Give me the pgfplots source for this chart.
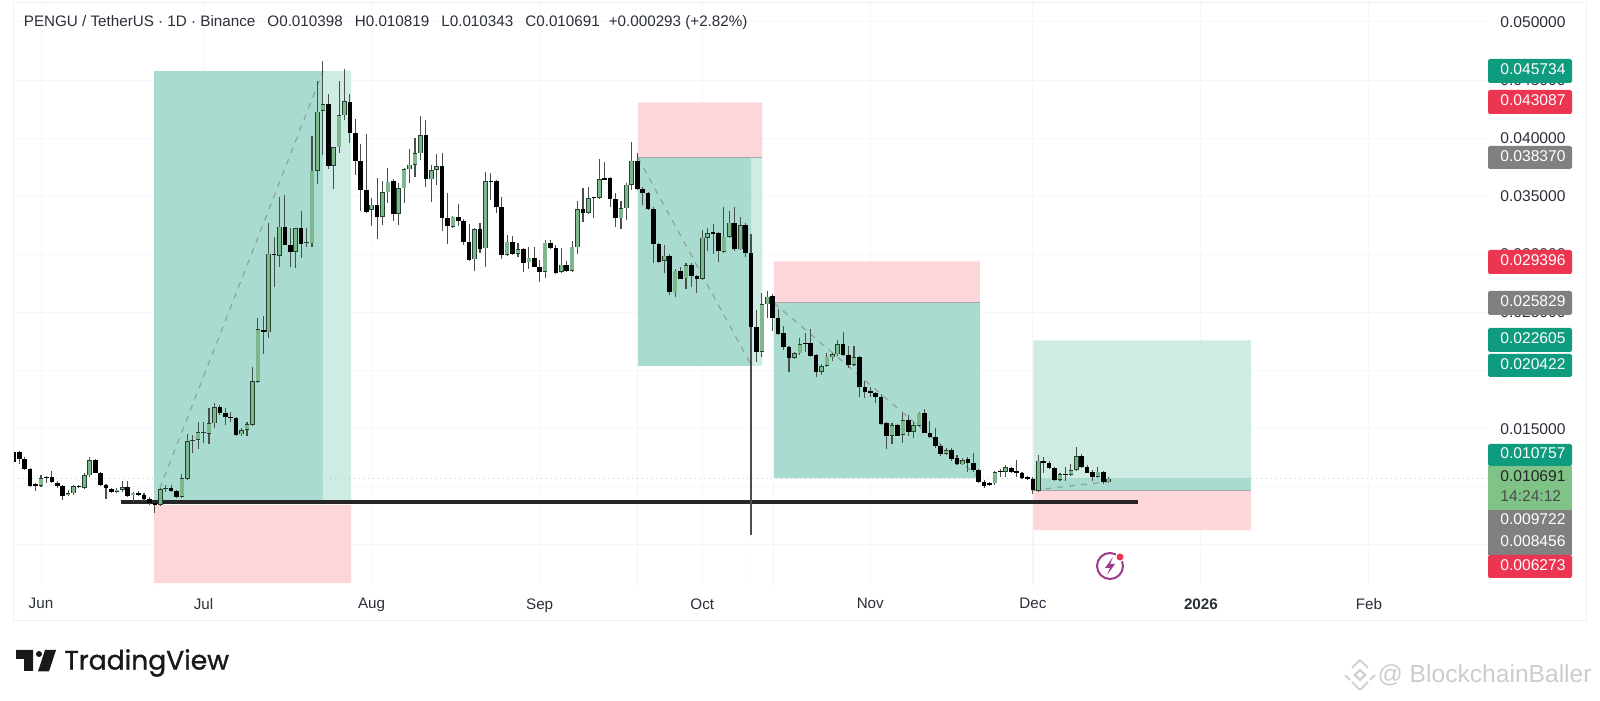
\documentclass[border=0pt]{standalone}
\usepackage{pgfplots}
\pgfplotsset{compat=1.18}
\usepackage{pgfplotstable}
\usepackage{fontspec}
\setmainfont{Liberation Sans}
\newfontfamily\tvfont[FakeBold=1.2]{Poppins}
\definecolor{tGrid}{HTML}{F6F7F8}
\definecolor{tDark}{HTML}{A9DBD1}
\definecolor{tLight}{HTML}{CEEBE4}
\definecolor{tPink}{HTML}{FDD6DA}
\definecolor{cUp}{HTML}{7DB88C}
\definecolor{cEdge}{HTML}{24402F}
\definecolor{cWick}{HTML}{4A4F4C}
\definecolor{cDash}{HTML}{8FA3A0}
\definecolor{tagG}{HTML}{0E9B7E}
\definecolor{tagR}{HTML}{EC3550}
\definecolor{tagA}{HTML}{808080}
\definecolor{tagL}{HTML}{7FC386}
\definecolor{ink}{HTML}{2A2E39}
\pgfplotstableread{
d o h l c
0 0.01010 0.01102 0.01001 0.01073
5 0.00927 0.00973 0.00921 0.00944
6 0.00944 0.01016 0.00930 0.01007
8 0.00990 0.01116 0.00984 0.01099
9 0.01099 0.01260 0.01087 0.01231
14 0.00958 0.00987 0.00953 0.00976
15 0.00973 0.01053 0.00958 0.00996
17 0.00927 0.00958 0.00872 0.00950
22 0.00847 0.00987 0.00838 0.00981
23 0.00981 0.01016 0.00958 0.00990
26 0.00913 0.01110 0.00907 0.01073
27 0.01067 0.01452 0.01059 0.01394
28 0.01394 0.01446 0.01288 0.01403
29 0.01403 0.01555 0.01323 0.01469
30 0.01460 0.01555 0.01380 0.01472
31 0.01455 0.01675 0.01366 0.01546
32 0.01546 0.01718 0.01503 0.01684
37 0.01452 0.01503 0.01440 0.01489
38 0.01489 0.01561 0.01440 0.01541
39 0.01535 0.02029 0.01526 0.01911
40 0.01905 0.02450 0.01897 0.02356
42 0.02330 0.03268 0.02278 0.03007
44 0.02989 0.03491 0.02895 0.03239
47 0.03021 0.03230 0.02880 0.03225
49 0.03096 0.03225 0.03061 0.03107
50 0.03096 0.04019 0.03061 0.03721
51 0.03721 0.04495 0.03606 0.04228
52 0.04234 0.04667 0.03856 0.04294
54 0.03764 0.03927 0.03563 0.03921
55 0.03921 0.04495 0.03870 0.04197
56 0.04197 0.04593 0.04157 0.04320
61 0.03382 0.03483 0.03245 0.03428
63 0.03325 0.03635 0.03253 0.03535
64 0.03535 0.03741 0.03440 0.03626
66 0.03348 0.03618 0.03253 0.03569
67 0.03569 0.03747 0.03446 0.03732
68 0.03732 0.03905 0.03618 0.03773
69 0.03773 0.04000 0.03669 0.03870
70 0.03870 0.04191 0.03813 0.04028
72 0.03646 0.03770 0.03454 0.03727
73 0.03727 0.03861 0.03598 0.03761
76 0.03239 0.03331 0.03225 0.03325
80 0.02958 0.03225 0.02861 0.03216
82 0.03053 0.03707 0.02889 0.03632
86 0.02995 0.03167 0.02990 0.03110
88 0.03004 0.03101 0.02981 0.03044
90 0.02932 0.03067 0.02872 0.02972
93 0.02852 0.03124 0.02800 0.03101
96 0.02852 0.03053 0.02846 0.02912
98 0.02858 0.03119 0.02852 0.03067
99 0.03061 0.03463 0.03004 0.03388
101 0.03360 0.03578 0.03348 0.03483
103 0.03486 0.03818 0.03480 0.03646
107 0.03311 0.03463 0.03219 0.03397
108 0.03397 0.03618 0.03296 0.03600
109 0.03598 0.03970 0.03555 0.03807
115 0.02944 0.03081 0.02843 0.02990
117 0.02674 0.02872 0.02631 0.02861
119 0.02795 0.02929 0.02700 0.02909
122 0.02789 0.03210 0.02780 0.03144
123 0.03144 0.03225 0.03030 0.03182
126 0.03021 0.03405 0.03015 0.03153
127 0.03153 0.03377 0.03139 0.03274
129 0.03044 0.03325 0.03038 0.03253
133 0.02163 0.02665 0.02115 0.02571
134 0.02571 0.02688 0.02450 0.02637
139 0.02112 0.02163 0.02097 0.02149
140 0.02149 0.02278 0.02135 0.02229
144 0.01988 0.02057 0.01963 0.02040
145 0.02040 0.02149 0.02029 0.02120
146 0.02115 0.02149 0.02086 0.02140
147 0.02140 0.02264 0.02126 0.02229
150 0.02049 0.02212 0.02040 0.02115
157 0.01438 0.01547 0.01369 0.01532
159 0.01446 0.01633 0.01380 0.01575
161 0.01475 0.01561 0.01418 0.01532
162 0.01524 0.01647 0.01518 0.01638
167 0.01283 0.01332 0.01277 0.01317
170 0.01194 0.01251 0.01185 0.01231
176 0.01030 0.01137 0.01016 0.01125
178 0.01128 0.01188 0.01082 0.01168
184 0.00967 0.01274 0.00962 0.01225
188 0.01059 0.01117 0.01053 0.01108
190 0.01102 0.01197 0.01094 0.01145
191 0.01145 0.01346 0.01139 0.01266
195 0.01088 0.01174 0.01082 0.01131
197 0.01039 0.01082 0.01031 0.01071
}\upT
\pgfplotstableread{
d o h l c
-5 0.01303 0.01346 0.01217 0.01217
-4 0.01303 0.01311 0.01196 0.01237
-3 0.01237 0.01260 0.01145 0.01151
-2 0.01151 0.01159 0.01001 0.01007
-1 0.01024 0.01030 0.00967 0.01010
1 0.01085 0.01093 0.01030 0.01073
2 0.01082 0.01139 0.01030 0.01044
3 0.01036 0.01053 0.00987 0.01007
4 0.01007 0.01016 0.00887 0.00921
7 0.01007 0.01016 0.00987 0.00996
10 0.01231 0.01237 0.01116 0.01122
11 0.01122 0.01131 0.01010 0.01016
12 0.01016 0.01024 0.00892 0.00987
13 0.00981 0.00987 0.00944 0.00953
16 0.01001 0.01053 0.00915 0.00924
18 0.00950 0.00967 0.00921 0.00930
19 0.00930 0.00950 0.00881 0.00892
20 0.00892 0.00910 0.00844 0.00858
21 0.00858 0.00872 0.00772 0.00841
24 0.00990 0.01016 0.00953 0.00961
25 0.00961 0.00973 0.00907 0.00913
33 0.01684 0.01704 0.01618 0.01632
34 0.01632 0.01675 0.01532 0.01604
35 0.01604 0.01647 0.01561 0.01592
36 0.01592 0.01598 0.01440 0.01446
41 0.02350 0.02470 0.02143 0.02333
43 0.03007 0.03153 0.02717 0.02992
45 0.03239 0.03511 0.03078 0.03084
46 0.03084 0.03230 0.02895 0.03021
48 0.03225 0.03377 0.02966 0.03090
53 0.04294 0.04380 0.03732 0.03761
57 0.04309 0.04381 0.03956 0.04042
58 0.04042 0.04165 0.03684 0.03807
59 0.03807 0.03950 0.03377 0.03555
60 0.03555 0.04036 0.03360 0.03368
62 0.03426 0.03655 0.03130 0.03325
65 0.03632 0.03646 0.03291 0.03348
71 0.04028 0.04157 0.03583 0.03646
74 0.03761 0.03876 0.03202 0.03311
75 0.03311 0.03532 0.03087 0.03245
77 0.03319 0.03434 0.03245 0.03291
78 0.03291 0.03302 0.03081 0.03110
79 0.03110 0.03259 0.02947 0.02952
81 0.03216 0.03274 0.03015 0.03044
83 0.03632 0.03698 0.03469 0.03623
84 0.03632 0.03641 0.03360 0.03411
85 0.03411 0.03497 0.02958 0.02995
87 0.03110 0.03159 0.02998 0.03004
89 0.03044 0.03053 0.02852 0.02929
91 0.02972 0.03067 0.02889 0.02895
92 0.02895 0.02952 0.02766 0.02852
94 0.03101 0.03124 0.03050 0.03058
95 0.03058 0.03081 0.02832 0.02843
97 0.02912 0.02947 0.02852 0.02858
100 0.03388 0.03575 0.03282 0.03360
102 0.03491 0.03497 0.03311 0.03483
104 0.03655 0.03798 0.03641 0.03644
105 0.03655 0.03664 0.03411 0.03474
106 0.03474 0.03526 0.03239 0.03311
110 0.03807 0.03876 0.03555 0.03566
111 0.03566 0.03578 0.03426 0.03526
112 0.03532 0.03540 0.03382 0.03388
113 0.03388 0.03405 0.02929 0.03090
114 0.03090 0.03096 0.02929 0.02935
116 0.02990 0.03004 0.02651 0.02674
118 0.02861 0.02895 0.02786 0.02789
120 0.02909 0.02924 0.02723 0.02815
121 0.02815 0.02823 0.02666 0.02789
124 0.03187 0.03259 0.03004 0.03179
125 0.03187 0.03196 0.02938 0.03027
128 0.03274 0.03405 0.03033 0.03044
130 0.03253 0.03268 0.02981 0.03015
131 0.03015 0.03176 0.00586 0.02373
132 0.02373 0.02522 0.02078 0.02164
135 0.02642 0.02660 0.02344 0.02450
136 0.02450 0.02528 0.02307 0.02315
137 0.02321 0.02384 0.02178 0.02201
138 0.02206 0.02212 0.01991 0.02112
141 0.02241 0.02321 0.02163 0.02229
142 0.02235 0.02355 0.02120 0.02126
143 0.02132 0.02140 0.01943 0.01988
148 0.02229 0.02335 0.02126 0.02135
149 0.02135 0.02212 0.02020 0.02049
151 0.02115 0.02126 0.01776 0.01856
152 0.01856 0.01914 0.01762 0.01813
153 0.01819 0.01862 0.01776 0.01811
154 0.01811 0.01819 0.01719 0.01776
155 0.01776 0.01799 0.01535 0.01541
156 0.01547 0.01561 0.01326 0.01438
158 0.01532 0.01541 0.01438 0.01441
160 0.01575 0.01618 0.01441 0.01475
163 0.01638 0.01667 0.01461 0.01466
164 0.01466 0.01570 0.01418 0.01426
165 0.01432 0.01504 0.01337 0.01355
166 0.01355 0.01369 0.01266 0.01283
168 0.01317 0.01332 0.01223 0.01243
169 0.01246 0.01274 0.01188 0.01194
171 0.01237 0.01260 0.01125 0.01208
172 0.01208 0.01289 0.01131 0.01145
173 0.01145 0.01154 0.01036 0.01045
174 0.01045 0.01059 0.00993 0.01007
175 0.01030 0.01045 0.01007 0.01019
177 0.01137 0.01151 0.01088 0.01128
179 0.01162 0.01174 0.01122 0.01128
180 0.01131 0.01231 0.01082 0.01122
181 0.01117 0.01131 0.01071 0.01076
182 0.01076 0.01094 0.01059 0.01071
183 0.01071 0.01082 0.00939 0.00973
185 0.01225 0.01260 0.01117 0.01203
186 0.01208 0.01225 0.01157 0.01162
187 0.01162 0.01174 0.01053 0.01059
189 0.01111 0.01174 0.01053 0.01102
192 0.01266 0.01283 0.01162 0.01168
193 0.01168 0.01188 0.01117 0.01122
194 0.01128 0.01145 0.01053 0.01088
196 0.01131 0.01137 0.01025 0.01042
}\dnT
\pgfplotsset{
  wicks/.style={draw=none,mark=none,forget plot,
    error bars/.cd,y dir=both,y explicit,error mark=none,
    error bar style={draw=cWick,line width=0.55pt}},
  bodyA/.style={draw=none,mark=none,forget plot,
    error bars/.cd,y dir=plus,y explicit,error mark=none,
    error bar style={draw=#1,line width=2.3pt}},
  bodyB/.style={draw=none,mark=none,forget plot,
    error bars/.cd,y dir=plus,y explicit,error mark=none,
    error bar style={draw=cUp,line width=1.7pt}},
}
\newcommand\pricetag[4]{%
  \fill[#1,rounded corners=0.8pt] (1488,#2) rectangle (1572,#3);
  \node[anchor=west,inner sep=0pt,text=white] at (1500,{(#2+#3)/2}) {\strut #4};}
\begin{document}
\begin{tikzpicture}
\useasboundingbox (0,0) rectangle (800pt,350.5pt);
\begin{axis}[
  at={(6.5pt,58pt)},anchor=south west,
  scale only axis,width=737.5pt,height=291pt,
  xmin=-5.166,xmax=266.97,ymin=0.001558,ymax=0.051635,
  axis line style={draw=none},
  major tick length=0pt,
  grid=major,grid style={draw=tGrid,line width=0.5pt},
  xtick={0,30,61,92,122,153,183,214,245},
  xticklabels={Jun,Jul,Aug,Sep,Oct,Nov,Dec,\textbf{2026},Feb},
  xticklabel style={font=\fontsize{7.6}{9}\selectfont,text=ink,inner sep=0pt,yshift=-6.5pt},
  ytick={0.005,0.01,0.015,0.02,0.025,0.03,0.035,0.04,0.045,0.05},
  yticklabel pos=right,
  scaled y ticks=false,
  yticklabel style={font=\fontsize{7.8}{9}\selectfont,text=ink,anchor=west,inner sep=0pt,xshift=6pt,
    /pgf/number format/.cd,fixed,fixed zerofill,precision=6,assume math mode=true},
  clip=true,
]
% risk / reward zones
\addplot[fill=tDark,draw=none,forget plot] coordinates {(20.85,0.00860)(52.03,0.00860)(52.03,0.04578)(20.85,0.04578)} \closedcycle;
\addplot[fill=tLight,draw=none,forget plot] coordinates {(52.03,0.00860)(57.2,0.00860)(57.2,0.04578)(52.03,0.04578)} \closedcycle;
\addplot[fill=tPink,draw=none,forget plot] coordinates {(20.85,0.00173)(57.2,0.00173)(57.2,0.00845)(20.85,0.00845)} \closedcycle;
\addplot[fill=tPink,draw=none,forget plot] coordinates {(110.1,0.03837)(133.1,0.03837)(133.1,0.04309)(110.1,0.04309)} \closedcycle;
\addplot[fill=tDark,draw=none,forget plot] coordinates {(110.1,0.02042)(131.1,0.02042)(131.1,0.03837)(110.1,0.03837)} \closedcycle;
\addplot[fill=tLight,draw=none,forget plot] coordinates {(131.1,0.02042)(133.1,0.02042)(133.1,0.03837)(131.1,0.03837)} \closedcycle;
\addplot[fill=tPink,draw=none,forget plot] coordinates {(135.2,0.02583)(173.2,0.02583)(173.2,0.02940)(135.2,0.02940)} \closedcycle;
\addplot[fill=tDark,draw=none,forget plot] coordinates {(135.2,0.01076)(173.2,0.01076)(173.2,0.02583)(135.2,0.02583)} \closedcycle;
\addplot[fill=tLight,draw=none,forget plot] coordinates {(183.1,0.01076)(223.2,0.01076)(223.2,0.02261)(183.1,0.02261)} \closedcycle;
\addplot[fill=tDark,draw=none,forget plot] coordinates {(183.1,0.00972)(223.2,0.00972)(223.2,0.01076)(183.1,0.01076)} \closedcycle;
\addplot[fill=tPink,draw=none,forget plot] coordinates {(183.1,0.00627)(223.2,0.00627)(223.2,0.00972)(183.1,0.00972)} \closedcycle;
% entry lines
\addplot[draw=gray!70,line width=0.5pt,forget plot] coordinates {(110.1,0.03837)(133.1,0.03837)};
\addplot[draw=gray!70,line width=0.5pt,forget plot] coordinates {(135.2,0.02583)(173.2,0.02583)};
\addplot[draw=gray!70,line width=0.5pt,forget plot] coordinates {(183.1,0.00972)(223.2,0.00972)};
% dashed trade paths
\addplot[draw=cDash,line width=0.6pt,dash pattern=on 3pt off 3pt,forget plot] coordinates {(21.9,0.00985)(52.03,0.04578)};
\addplot[draw=cDash,line width=0.6pt,dash pattern=on 3pt off 3pt,forget plot] coordinates {(110.1,0.03837)(131.1,0.02042)};
\addplot[draw=cDash,line width=0.6pt,dash pattern=on 3pt off 3pt,forget plot] coordinates {(135.2,0.02583)(173.2,0.01076)};
\addplot[draw=cDash,line width=0.6pt,dash pattern=on 3pt off 3pt,forget plot] coordinates {(183.1,0.00972)(197,0.01045)};
% last price
\addplot[draw=gray!45,line width=0.4pt,dotted,forget plot] coordinates {(-5.166,0.01069)(266.97,0.01069)};
% support line
\addplot[draw=black!85,line width=1.6pt,forget plot] coordinates {(14.7,0.00870)(202.4,0.00870)};
% candles
\addplot[wicks] table[x=d,y=o,y error plus expr=\thisrow{h}-\thisrow{o},y error minus expr=\thisrow{o}-\thisrow{l}] {\upT};
\addplot[wicks] table[x=d,y=o,y error plus expr=\thisrow{h}-\thisrow{o},y error minus expr=\thisrow{o}-\thisrow{l}] {\dnT};
\addplot[bodyA=cEdge] table[x=d,y=o,y error plus expr={max(\thisrow{c}-\thisrow{o},0.00012)}] {\upT};
\addplot[bodyB] table[x=d,y expr=\thisrow{o}+0.00006,y error plus expr={max(\thisrow{c}-\thisrow{o}-0.00012,0)}] {\upT};
\addplot[bodyA=black] table[x=d,y=c,y error plus expr={max(\thisrow{o}-\thisrow{c},0.00012)}] {\dnT};
\end{axis}
\begin{scope}[x=0.5pt,y=-0.5pt,shift={(0pt,350.5pt)}]
\draw[draw=black!6,line width=0.5pt] (13,3) rectangle (1586,621);
\node[anchor=west,inner sep=0pt,text=ink,font=\fontsize{7.6}{9}\selectfont] at (23.5,22.5)
  {PENGU / TetherUS · 1D · Binance\hspace{0.8em}O0.010398\hspace{0.8em}H0.010819\hspace{0.8em}L0.010343\hspace{0.8em}C0.010691\hspace{0.6em}+0.000293 (+2.82\%)};
\begin{scope}[font=\fontsize{7.8}{9}\selectfont]
\pricetag{tagG}{59}{83}{0.045734}
\pricetag{tagR}{90}{114}{0.043087}
\pricetag{tagA}{146}{169}{0.038370}
\pricetag{tagR}{250}{274}{0.029396}
\pricetag{tagA}{291}{315}{0.025829}
\pricetag{tagG}{328}{352}{0.022605}
\pricetag{tagG}{354}{377}{0.020422}
\pricetag{tagG}{444}{466}{0.010757}
\fill[tagL] (1488,466) rectangle (1572,510);
\node[anchor=west,inner sep=0pt,text=black!85] at (1500,478) {\strut 0.010691};
\node[anchor=west,inner sep=0pt,text=black!70] at (1500,498) {\strut 14:24:12};
\fill[tagA] (1488,510) rectangle (1572,555);
\node[anchor=west,inner sep=0pt,text=white] at (1500,521) {\strut 0.009722};
\node[anchor=west,inner sep=0pt,text=white] at (1500,543) {\strut 0.008456};
\pricetag{tagR}{555}{578}{0.006273}
\end{scope}
% alert icon
\draw[draw=black!10!violet!70!pink,line width=1pt] (1110,566) circle (13);
\fill[draw=none,fill=black!10!violet!70!pink] (1113,557) -- (1105,568) -- (1110,568) -- (1107,575) -- (1115,564) -- (1110,564) -- cycle;
\fill[white] (1120,557) circle (5);
\fill[tagR] (1120,557) circle (3.5);
% TradingView logo
\fill[black!90] (16,650) -- (33,650) -- (33,671) -- (24,671) -- (24,659) -- (16,659) -- cycle;
\fill[black!90] (39,654) circle (3);
\fill[black!90] (45,650) -- (56,650) -- (49,671.5) -- (38,671.5) -- cycle;
\node[anchor=west,inner sep=0pt,text=black!90,font=\tvfont\fontsize{13.3}{16}\selectfont] at (64,663) {TradingView};
% watermark
\node[anchor=east,inner sep=0pt,text=black!20,font=\fontsize{12.3}{14}\selectfont] at (1592,675) {@ BlockchainBaller};
\draw[black!18,line width=1pt] (1360,660) -- (1368,668) (1352,668) -- (1360,660) (1345,675) -- (1350,680) (1375,675) -- (1370,680)
  (1360,690) -- (1352,682) (1360,690) -- (1368,682);
\draw[black!18,line width=1.2pt] (1360,670) -- (1365,675) -- (1360,680) -- (1355,675) -- cycle;
\end{scope}
\end{tikzpicture}
\end{document}
